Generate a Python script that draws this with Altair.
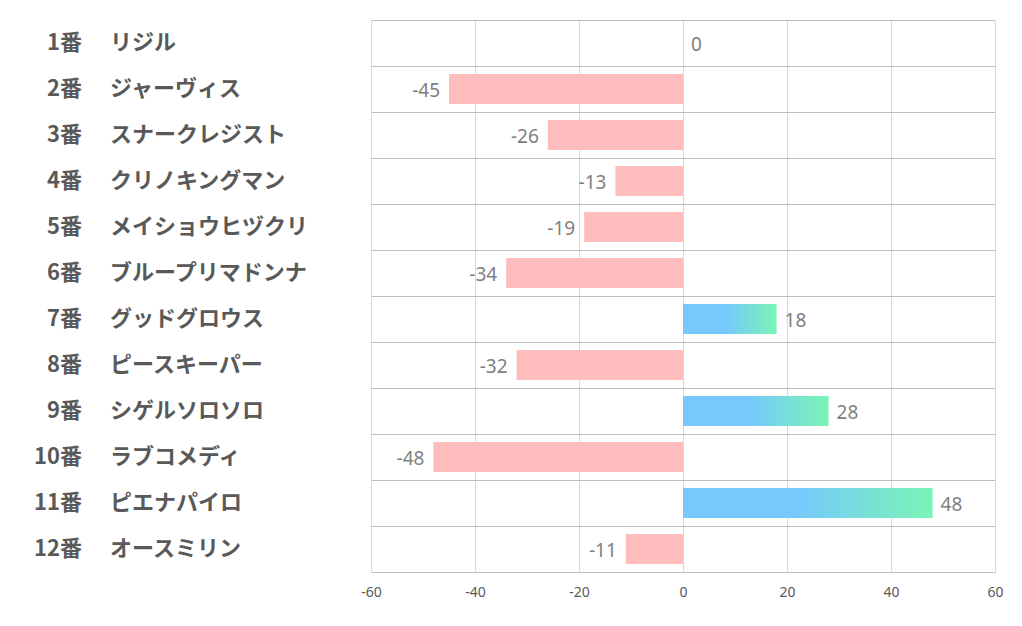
import altair as alt
import pandas as pd

nums = ["1番", "2番", "3番", "4番", "5番", "6番", "7番", "8番", "9番", "10番", "11番", "12番"]
names = ["リジル", "ジャーヴィス", "スナークレジスト", "クリノキングマン", "メイショウヒヅクリ",
         "ブループリマドンナ", "グッドグロウス", "ピースキーパー", "シゲルソロソロ",
         "ラブコメディ", "ピエナパイロ", "オースミリン"]
values = [0, -45, -26, -13, -19, -34, 18, -32, 28, -48, 48, -11]
ticks = [-60, -40, -20, 0, 20, 40, 60]

df = pd.DataFrame({"num": nums, "name": names, "value": values})

y = alt.Y("num:N", sort=nums,
          scale=alt.Scale(paddingInner=0, paddingOuter=0),
          axis=alt.Axis(labels=False, ticks=False, domain=False, grid=True,
                        gridColor="#bfbfbf", bandPosition=0, title=None))
x = alt.X("value:Q", scale=alt.Scale(domain=[-60, 60], nice=False),
          axis=alt.Axis(values=ticks, grid=True, gridColor="#d9d9d9",
                        domainColor="#bfbfbf", ticks=False, labelColor="#595959",
                        labelFontSize=14, labelPadding=13, title=None,
                        labelFlush=False, labelExpr="toString(datum.value)",
                        labelFont="Noto Sans"))

base = alt.Chart(df).transform_calculate(lbl="toString(datum.value)")

neg_bars = base.transform_filter("datum.value < 0").mark_bar(
    size=30, color="#ffbcbd").encode(x=x, y=y)

grad = alt.LinearGradient(
    gradient="linear", x1=0, x2=1, y1=0, y2=0,
    stops=[alt.GradientStop(color="#76c8fd", offset=0),
           alt.GradientStop(color="#76c8fd", offset=0.45),
           alt.GradientStop(color="#7af5b5", offset=1)])
pos_bars = base.transform_filter("datum.value > 0").mark_bar(
    size=30, color=grad).encode(x=x, y=y)

neg_text = base.transform_filter("datum.value < 0").mark_text(
    align="right", baseline="middle", dx=-9, dy=2, fontSize=19,
    font="Noto Sans", color="#7f7f7f").encode(x=x, y=y, text="lbl:N")
pos_text = base.transform_filter("datum.value >= 0").mark_text(
    align="left", baseline="middle", dx=8, dy=2, fontSize=19,
    font="Noto Sans", color="#7f7f7f").encode(x=x, y=y, text="lbl:N")

num_text = base.mark_text(
    align="right", baseline="middle", fontSize=22, fontWeight="bold",
    font="Noto Sans CJK JP", color="#595959").encode(
    x=alt.value(-289), y=y, text="num:N")
name_text = base.mark_text(
    align="left", baseline="middle", fontSize=22, fontWeight="bold",
    font="Noto Sans CJK JP", color="#595959").encode(
    x=alt.value(-261), y=y, text="name:N")

chart = alt.layer(neg_bars, pos_bars, neg_text, pos_text, num_text, name_text).properties(
    width=624, height=552,
    autosize=alt.AutoSizeParams(type="none"),
    padding={"left": 363, "top": 12, "right": 10, "bottom": 40},
).configure_view(stroke=None)

chart.save("out.html", embed_options={"renderer": "svg", "actions": False})
